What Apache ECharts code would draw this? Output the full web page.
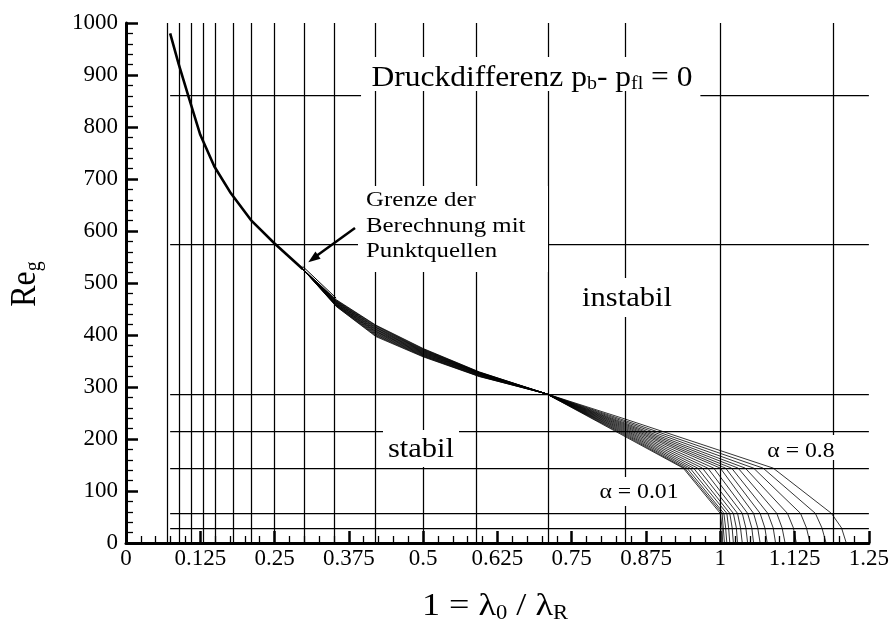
<!DOCTYPE html>
<html><head><meta charset="utf-8">
<script src="https://cdn.jsdelivr.net/npm/echarts/dist/echarts.min.js"></script>
<style>html,body{margin:0;padding:0;background:#fff}#c{width:892px;height:628px}</style>
</head><body><div id="c"></div>
<script>
// ---------- data ----------
const xTickLabels = ['0','0.125','0.25','0.375','0.5','0.625','0.75','0.875','1','1.125','1.25'];
const yTickLabels = ['0','100','200','300','400','500','600','700','800','900','1000'];

// computational grid lines
const vLines = [0.0743,0.0884,0.1051,0.125,0.1487,0.1768,0.2102,0.25,0.2973,0.3536,0.4204,0.5,0.5946,0.7071,0.8409,1.0,1.1892];
const hLineY     = [861, 861, 574, 287, 215, 144, 57, 29];
const hLineStart = [0.0743, 0.9665, 0.0743, 0.0743, 0.0743, 0.0743, 0.0743, 0.0743];
const hLineEnd   = [0.3955, 1.25, 1.25, 1.25, 1.25, 1.25, 1.25, 1.25];

// common stability limit (thick)
const mainX = [0.0743,0.0884,0.1051,0.125,0.1487,0.1768,0.2102,0.25,0.2973];
const mainY = [980,922,859,785,724,672,621,576,527];

// limit of point-source computation (thin)
const limitX = [0.2973,0.3536];
const limitY = [532,471];

// bundle of curves alpha = 0.01 ... 0.8
const bundleX = [0.2973,0.3536,0.4204,0.5,0.5946,0.7071];
const bundleY = [
  [527,468,419,374,329,287],
  [527,467,418,373,328.5,287],
  [527,466,416.5,372,328,287],
  [527,465,415,371,327.5,287],
  [527,464.5,414,370,327,287],
  [527,463.5,412.5,369,326.5,287],
  [527,462.5,411,368,326,287],
  [527,462,410,367,325.5,287],
  [527,461,408.5,366,325,287],
  [527,460,407,365,324.5,287],
  [527,459.5,406,364,324,287],
  [527,458.5,404.5,363,323,287],
  [527,458,403,362,322.5,287],
  [527,457,401.5,361,322,287],
  [527,456.5,400,360,321,287],
  [527,455.5,398.5,359,320.5,287],
  [527,455,397,358,320,287]
];
const lowerXB  = 0.8409;
const lowerYB  = [204,206,208,210,212,214,216,218,220,222,224,226,228,230,232.5,235,238];
const lowerX144 = [0.9376,0.940,0.944,0.949,0.955,0.962,0.970,0.979,0.989,1.000,1.009,1.019,1.030,1.042,1.056,1.072,1.089];
const lowerX57  = [1.000,1.003,1.006,1.011,1.016,1.022,1.029,1.037,1.046,1.056,1.067,1.080,1.095,1.113,1.135,1.160,1.187];
const lowerX29  = [1.003,1.005,1.009,1.014,1.020,1.027,1.034,1.043,1.053,1.063,1.075,1.089,1.104,1.123,1.145,1.171,1.204];
const lowerX0   = [1.004,1.007,1.011,1.016,1.022,1.029,1.037,1.046,1.056,1.067,1.079,1.093,1.109,1.128,1.151,1.178,1.212];
const lowerLevels = [144,57,29,0];

// ---------- build ----------
const FONT = "Liberation Serif";
const SX = 1.13;
const chart = echarts.init(document.getElementById('c'), null, {renderer:'canvas'});

const markData = vLines.map(v => ({xAxis: v}));
hLineY.forEach((y, i) => markData.push([{coord:[hLineStart[i], y]}, {coord:[hLineEnd[i], y]}]));

const series = [];
series.push({
  type:'line', name:'main', data: mainX.map((x,i)=>[x, mainY[i]]),
  showSymbol:false, symbol:'none', lineStyle:{color:'#000', width:2.6}, z:3,
  markLine:{silent:true, symbol:['none','none'], label:{show:false}, animation:false,
    lineStyle:{color:'#000', width:1.25, type:'solid'}, emphasis:{disabled:true}, data: markData}
});
series.push({
  type:'line', name:'limit', data: limitX.map((x,i)=>[x, limitY[i]]),
  showSymbol:false, symbol:'none', lineStyle:{color:'#000', width:1}, z:3
});
bundleY.forEach((row, i) => {
  const d = bundleX.map((x,j)=>[x, row[j]]);
  d.push([lowerXB, lowerYB[i]]);
  d.push([lowerX144[i], lowerLevels[0]]);
  d.push([lowerX57[i], lowerLevels[1]]);
  d.push([lowerX29[i], lowerLevels[2]]);
  d.push([lowerX0[i], lowerLevels[3]]);
  series.push({type:'line', data:d, showSymbol:false, symbol:'none',
    lineStyle:{color:'#000', width:0.8}, z:3});
});

function rect(x,y,w,h){return {type:'rect', shape:{x,y,width:w,height:h}, style:{fill:'#fff'}, z:100, silent:true};}
function text(x,y,t,fs,extra,sx){
  return {type:'text', x, y, scaleX:sx||SX, z:101, silent:true,
    style:Object.assign({text:t, fontFamily:FONT, fontSize:fs, fill:'#000',
      align:'center', textAlign:'center', verticalAlign:'middle', textVerticalAlign:'middle'}, extra||{})};
}
const subRich = (fs, sfs) => ({
  m:{fontSize:fs, fontFamily:FONT, lineHeight:fs+2, fill:'#000'},
  s:{fontSize:sfs, fontFamily:FONT, lineHeight:6, verticalAlign:'bottom', fill:'#000'}
});

const graphic = [
  rect(361,57,341,34),
  rect(358,186,190,86),
  rect(578,278,98,39),
  rect(383,430,76,37),
  rect(594,477,92,29),
  rect(762,435,80,25),
  text(532,78,'{m|Druckdifferenz p}{s|b}{m|- p}{s|fl}{m| = 0}',30,{rich:subRich(30,19)},1.05),
  text(366,187.5,'Grenze der\nBerechnung mit\nPunktquellen',22,
     {align:'left', textAlign:'left', verticalAlign:'top', textVerticalAlign:'top', lineHeight:25.5}),
  text(627,299,'instabil',27),
  text(421,450,'stabil',27),
  text(639,492,'α = 0.01',21),
  text(801,451,'α = 0.8',21),
  text(495,607,'{m|1 = λ}{s|0}{m| / λ}{s|R}',32,{rich:subRich(32,20)}),
  {type:'text', x:26, y:284, rotation:Math.PI/2, scaleY:SX, z:101, silent:true,
   style:{text:'{m|Re}{s|g}', rich:subRich(32,20), fontFamily:FONT, fontSize:32, fill:'#000',
     align:'center', textAlign:'center', verticalAlign:'middle', textVerticalAlign:'middle'}},
  {type:'line', shape:{x1:355,y1:228,x2:317,y2:255.5}, style:{stroke:'#000', lineWidth:2.5}, z:101, silent:true},
  {type:'polygon', shape:{points:[[308.3,262.3],[320.6,258.8],[315.4,251.6]]}, style:{fill:'#000'}, z:101, silent:true}
];

chart.setOption({
  animation:false,
  backgroundColor:'#fff',
  grid:{left:126, top:23, width:743, height:520, containLabel:false},
  xAxis:{type:'value', min:0, max:1.25, interval:0.125,
    axisLine:{show:true, onZero:false, lineStyle:{color:'#000', width:3}},
    axisTick:{show:true, inside:true, length:12, lineStyle:{color:'#000', width:2.5}},
    minorTick:{show:true, splitNumber:5, length:7, lineStyle:{color:'#000', width:1.3}},
    splitLine:{show:false},
    axisLabel:{margin:4, fontFamily:FONT, fontSize:23, color:'#000',
      formatter:v=>{const i=Math.round(v/0.125); return xTickLabels[i] ?? '';}}
  },
  yAxis:{type:'value', min:0, max:1000, interval:100,
    axisLine:{show:true, onZero:false, lineStyle:{color:'#000', width:3}},
    axisTick:{show:true, inside:true, length:12, lineStyle:{color:'#000', width:2.5}},
    minorTick:{show:true, splitNumber:5, length:7, lineStyle:{color:'#000', width:1.3}},
    splitLine:{show:false},
    axisLabel:{margin:8, fontFamily:FONT, fontSize:23, color:'#000',
      formatter:v=>{const i=Math.round(v/100); return yTickLabels[i] ?? '';}}
  },
  series,
  graphic
});
</script></body></html>
